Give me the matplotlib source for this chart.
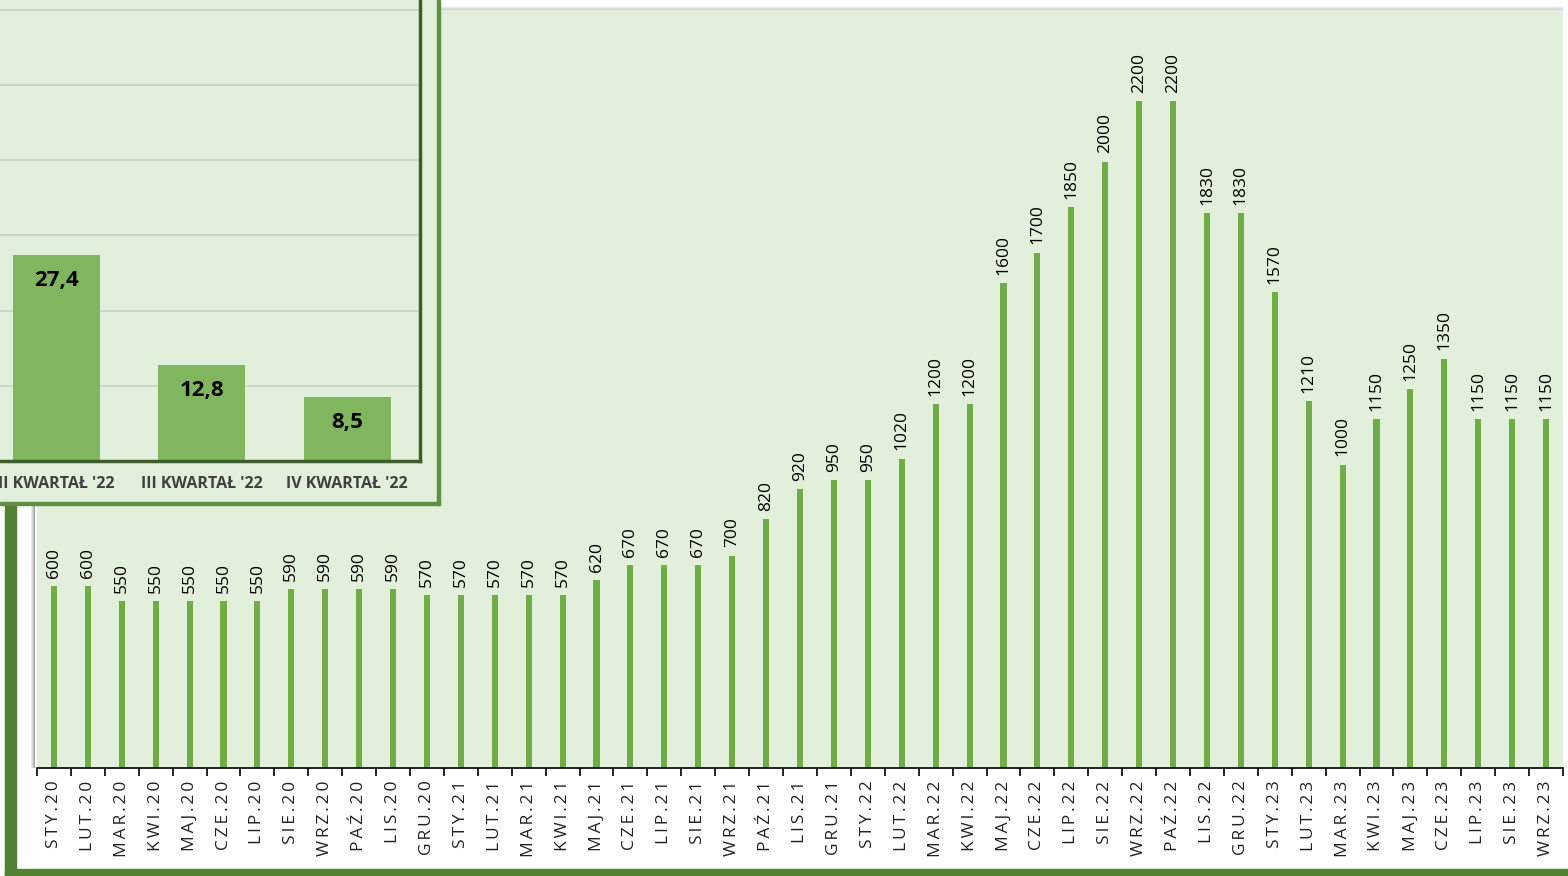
import numpy as np
import matplotlib.pyplot as plt
from matplotlib.patches import Rectangle

# monthly values (main chart)
months = ['STY.20', 'LUT.20', 'MAR.20', 'KWI.20', 'MAJ.20', 'CZE.20', 'LIP.20', 'SIE.20',
          'WRZ.20', 'PAŹ.20', 'LIS.20', 'GRU.20',
          'STY.21', 'LUT.21', 'MAR.21', 'KWI.21', 'MAJ.21', 'CZE.21', 'LIP.21', 'SIE.21',
          'WRZ.21', 'PAŹ.21', 'LIS.21', 'GRU.21',
          'STY.22', 'LUT.22', 'MAR.22', 'KWI.22', 'MAJ.22', 'CZE.22', 'LIP.22', 'SIE.22',
          'WRZ.22', 'PAŹ.22', 'LIS.22', 'GRU.22',
          'STY.23', 'LUT.23', 'MAR.23', 'KWI.23', 'MAJ.23', 'CZE.23', 'LIP.23', 'SIE.23',
          'WRZ.23']
prices = [600, 600, 550, 550, 550, 550, 550, 590, 590, 590, 590, 570,
          570, 570, 570, 570, 620, 670, 670, 670, 700, 820, 920, 950,
          950, 1020, 1200, 1200, 1600, 1700, 1850, 2000, 2200, 2200, 1830, 1830,
          1570, 1210, 1000, 1150, 1250, 1350, 1150, 1150, 1150]

# inset (quarterly)
quarters = ["II KWARTAŁ '22", "III KWARTAŁ '22", "IV KWARTAŁ '22"]
q_values = [27.4, 12.8, 8.5]
q_labels = ['27,4', '12,8', '8,5']

W, H = 1568, 876
BG = '#e2efda'
BAR = '#70ad47'
FRAME = '#548235'
DARK = '#3b5e2b'

plt.rcParams['font.family'] = ['Open Sans', 'DejaVu Sans']

fig = plt.figure(figsize=(W / 100, H / 100), dpi=100)
fig.patch.set_facecolor('white')


def px(x0, y0, x1, y1):
    # pixel box (top-left origin) -> figure fraction rect
    return [x0 / W, 1 - y1 / H, (x1 - x0) / W, (y1 - y0) / H]


# outer green frame (left + bottom)
fig.patches.append(Rectangle((5 / W, 0), 11 / W, (876 - 505) / H, transform=fig.transFigure,
                             color=FRAME, zorder=0))
fig.patches.append(Rectangle((5 / W, 0), 1 - 5 / W, 7 / H, transform=fig.transFigure,
                             color=FRAME, zorder=0))

# shadows around main panel
for i, a in enumerate([0.08, 0.15, 0.25, 0.35]):
    fig.patches.append(Rectangle(((31 + i) / W, 1 - 768 / H), 1 / W, (768 - 10) / H,
                                 transform=fig.transFigure, color='black', alpha=a, lw=0, zorder=0))
    fig.patches.append(Rectangle((36 / W, 1 - (7 + i) / H), (1563 - 36) / W, 1 / H,
                                 transform=fig.transFigure, color='black', alpha=a * 0.5, lw=0, zorder=0))

# main chart
ax = fig.add_axes(px(37, 10, 1563, 768))
ax.set_facecolor(BG)
x = np.arange(len(prices))
ax.bar(x, prices, width=0.18, color=BAR, zorder=2)
ax.set_xlim(-0.5, len(prices) - 0.5)
ax.set_ylim(0, 2500)
for xi, v in zip(x, prices):
    ax.annotate(str(v), (xi, v), xytext=(0, 6), textcoords='offset points',
                rotation=90, ha='center', va='bottom', fontsize=12.5, color='black')
for s in ['top', 'right', 'left']:
    ax.spines[s].set_visible(False)
ax.spines['bottom'].set_color('black')
ax.spines['bottom'].set_linewidth(1.2)
ax.set_yticks([])
ax.set_xticks(x)
spaced = ['\u2009'.join(m) for m in months]
ax.set_xticklabels(spaced, rotation=90, fontsize=12.5, color='#222222')
ax.tick_params(axis='x', length=0, pad=9)
ax.set_xticks(np.arange(len(prices) + 1) - 0.5, minor=True)
ax.tick_params(axis='x', which='minor', length=6, width=1.2, color='black')

# inset panel background
fig.patches.append(Rectangle((0, 1 - 505 / H), 440 / W, 505 / H, transform=fig.transFigure,
                             facecolor=BG, edgecolor='none', zorder=3))
fig.patches.append(Rectangle((437 / W, 1 - 505 / H), 3 / W, 505 / H, transform=fig.transFigure,
                             color='#5e8f42', zorder=3))
fig.patches.append(Rectangle((0, 1 - 505 / H), 440 / W, 3 / H, transform=fig.transFigure,
                             color='#5e8f42', zorder=3))

ax2 = fig.add_axes(px(0, 0, 420, 461))
ax2.set_zorder(5)
ax2.set_facecolor(BG)
qx = np.arange(len(q_values))
ax2.bar(qx, q_values, width=0.6, color='#7fb65e', zorder=2)
ax2.set_xlim(2.5 - 420 / 145.5, 2.5)
ax2.set_ylim(0, 61.3)
ax2.set_yticks([10, 20, 30, 40, 50, 60])
ax2.grid(axis='y', color='#c9d3c3', lw=1.2, zorder=0)
ax2.tick_params(axis='y', length=0, labelleft=False)
for xi, v, lab in zip(qx, q_values, q_labels):
    ax2.annotate(lab, (xi, v), xytext=(0, -11), textcoords='offset points',
                 ha='center', va='top', fontsize=16, fontweight='bold', color='black')
ax2.set_xticks(qx)
ax2.set_xticklabels(quarters, fontsize=11.5, fontweight='bold', color='#404040')
ax2.tick_params(axis='x', length=0, pad=11)
ax2.spines['top'].set_visible(False)
ax2.spines['left'].set_visible(False)
ax2.spines['right'].set_color(DARK)
ax2.spines['bottom'].set_color(DARK)
ax2.spines['right'].set_linewidth(2.5)
ax2.spines['bottom'].set_linewidth(2.5)

fig.savefig('out.png', dpi=100, facecolor='white')
